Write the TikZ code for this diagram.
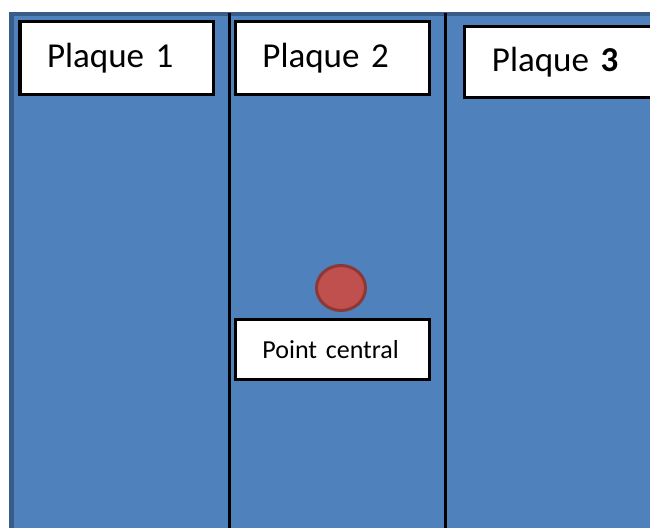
\documentclass[tikz,border=0pt]{standalone}
\usepackage{fontspec}
\setmainfont{Carlito}
\usetikzlibrary{positioning,shapes.geometric}
\definecolor{plateBlue}{RGB}{79,129,189}
\definecolor{plateEdge}{RGB}{56,93,138}
\definecolor{pointRed}{RGB}{192,80,77}
\definecolor{pointEdge}{RGB}{140,56,54}

\begin{document}
\begin{tikzpicture}[x=0.5pt, y=-0.5pt,
  platelabel/.style={draw=black, fill=white, line width=1.5pt, rectangle, align=left, inner xsep=13.5pt, text width=70pt, minimum height=36.5pt, font=\fontsize{17.5}{21}\selectfont},
  divider/.style={black, line width=1.5pt}]
  \useasboundingbox (0,0) rectangle (650,528);
  \clip (0,0) rectangle (650,528);
  \fill[white] (0,0) rectangle (650,528);
  % plates
  \fill[plateEdge] (9,12) rectangle (670,540);
  \fill[plateBlue] (14,16) rectangle (670,540);
  \coordinate (sepA top) at (230,13);
  \coordinate (sepA bot) at (230,540);
  \coordinate (sepB top) at (446,13);
  \coordinate (sepB bot) at (446,540);
  \draw[divider] (sepA top) -- (sepA bot);
  \draw[divider] (sepB top) -- (sepB bot);

  \node[platelabel] (plaque1) at (117,58.5) {Plaque 1};
  \node[platelabel] (plaque2) at (332.5,58.5) {Plaque 2};
  \node[platelabel, minimum height=35.5pt] (plaque3) at (562,62.5) {Plaque \textbf{3}};

  \node[ellipse, draw=pointEdge, fill=pointRed, line width=1.5pt, minimum width=24.5pt, minimum height=22.5pt, inner sep=0pt] (point) at (341,288) {};
  \node[platelabel, minimum height=30pt, font=\fontsize{13}{15}\selectfont] (central) at (332.5,350) {Point central};
\end{tikzpicture}
\end{document}
